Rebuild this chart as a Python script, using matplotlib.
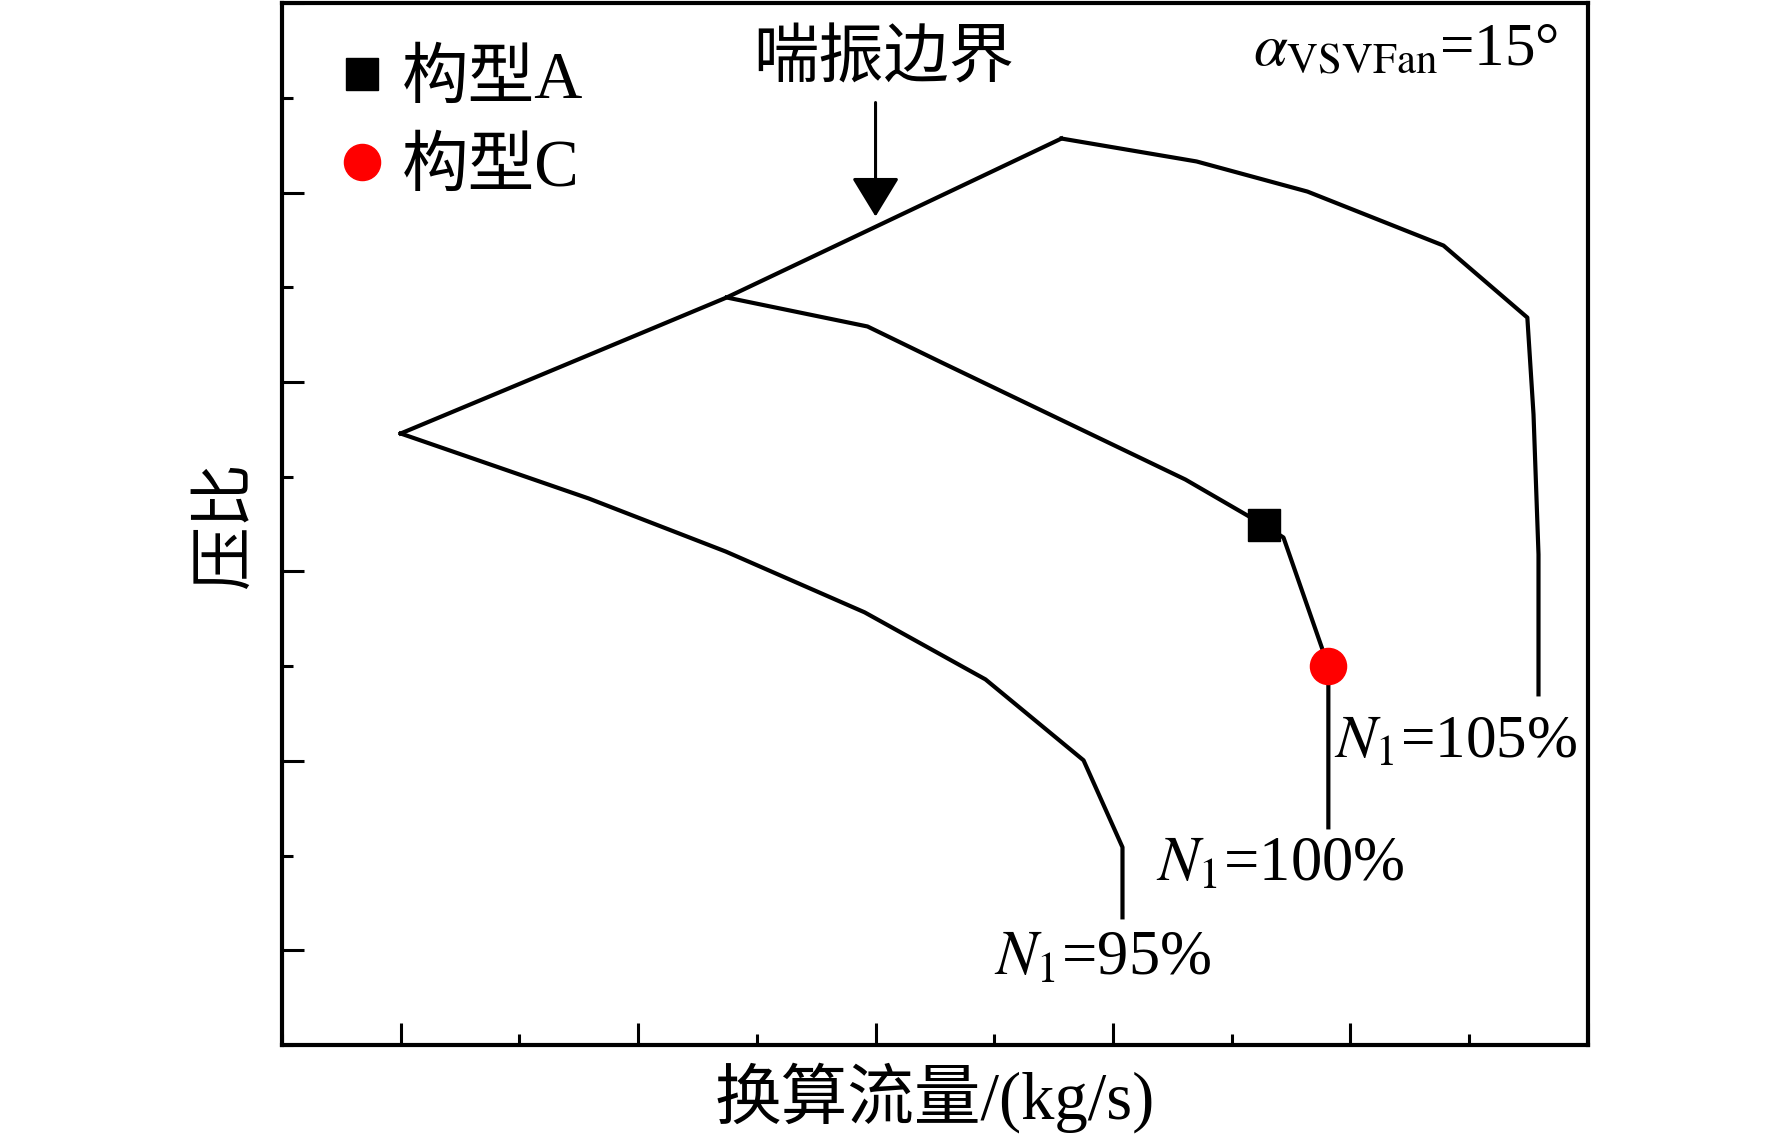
import matplotlib
matplotlib.use('Agg')
import matplotlib.pyplot as plt
from matplotlib.pyplot import MultipleLocator
from matplotlib.lines import Line2D

plt.rcParams['font.family'] = ['Liberation Serif', 'Noto Sans CJK SC']
plt.rcParams['mathtext.fontset'] = 'stix'

# surge line and speed lines (flow, pressure ratio) in relative units
surge_x = [0.0, 1.373, 2.783]
surge_y = [2.728, 3.446, 4.285]

n95_x = [0.0, 0.792, 1.369, 1.954, 2.463, 2.876, 3.040, 3.040]
n95_y = [2.728, 2.385, 2.105, 1.784, 1.430, 1.003, 0.544, 0.174]

n100_x = [1.373, 1.966, 2.278, 3.305, 3.638, 3.718, 3.907, 3.907]
n100_y = [3.446, 3.293, 3.103, 2.485, 2.243, 2.179, 1.499, 0.649]

n105_x = [2.783, 3.352, 3.819, 4.392, 4.745, 4.771, 4.792, 4.792]
n105_y = [4.285, 4.164, 4.005, 3.720, 3.340, 2.829, 2.090, 1.351]

# design points
config_names = ['构型A', '构型C']
config_x = [3.638, 3.907]
config_y = [2.243, 1.499]

fig = plt.figure(figsize=(17.72, 11.41), dpi=100)
ax = fig.add_axes([0.1591, 0.0841, 0.737, 0.9132])

lw = 3.0
ax.plot(surge_x, surge_y, 'k-', lw=lw)
ax.plot(n95_x, n95_y, 'k-', lw=lw)
ax.plot(n100_x, n100_y, 'k-', lw=lw)
ax.plot(n105_x, n105_y, 'k-', lw=lw)

ax.plot(config_x[0], config_y[0], 's', color='k', ms=23, zorder=5)
ax.plot(config_x[1], config_y[1], 'o', color='red', ms=26, zorder=5)

handles = [Line2D([], [], ls='none', marker='s', color='k', ms=23),
           Line2D([], [], ls='none', marker='o', color='red', ms=26)]
ax.legend(handles, config_names, loc='upper left', bbox_to_anchor=(0.018, 0.99),
          frameon=False, fontsize=48, handlelength=0.6, handletextpad=0.3,
          labelspacing=0.4, borderaxespad=0.35, borderpad=0.2)

# annotations
ax.annotate('', xy=(2.0, 3.873), xytext=(2.0, 4.475),
            arrowprops=dict(arrowstyle='-|>,head_length=0.82,head_width=0.5',
                            mutation_scale=30, lw=2.2, color='k',
                            shrinkA=0, shrinkB=0))
ax.text(2.034, 4.69, '喘振边界', fontsize=47, ha='center', va='center')
ax.text(3.59, 4.749, r'$\alpha_{\mathrm{VSVFan}}$=15°', fontsize=44,
        ha='left', va='center')
ax.text(3.93, 1.092, r'$N_1$=105%', fontsize=44, ha='left', va='center')
ax.text(3.18, 0.449, r'$N_1$=100%', fontsize=45, ha='left', va='center')
ax.text(2.50, -0.047, r'$N_1$=95%', fontsize=45, ha='left', va='center')

ax.set_xlim(-0.5, 5.0)
ax.set_ylim(-0.5, 5.0)
ax.xaxis.set_major_locator(MultipleLocator(1))
ax.xaxis.set_minor_locator(MultipleLocator(0.5))
ax.yaxis.set_major_locator(MultipleLocator(1))
ax.yaxis.set_minor_locator(MultipleLocator(0.5))
ax.tick_params(which='both', direction='in', labelbottom=False, labelleft=False,
               top=False, right=False, width=2.2)
ax.tick_params(which='major', length=16)
ax.tick_params(which='minor', length=8)
for s in ax.spines.values():
    s.set_linewidth(3.0)

ax.set_xlabel('换算流量/(kg/s)', fontsize=48, labelpad=12)
ax.set_ylabel('压比', fontsize=46, labelpad=18)

fig.savefig('out.png', dpi=100)
